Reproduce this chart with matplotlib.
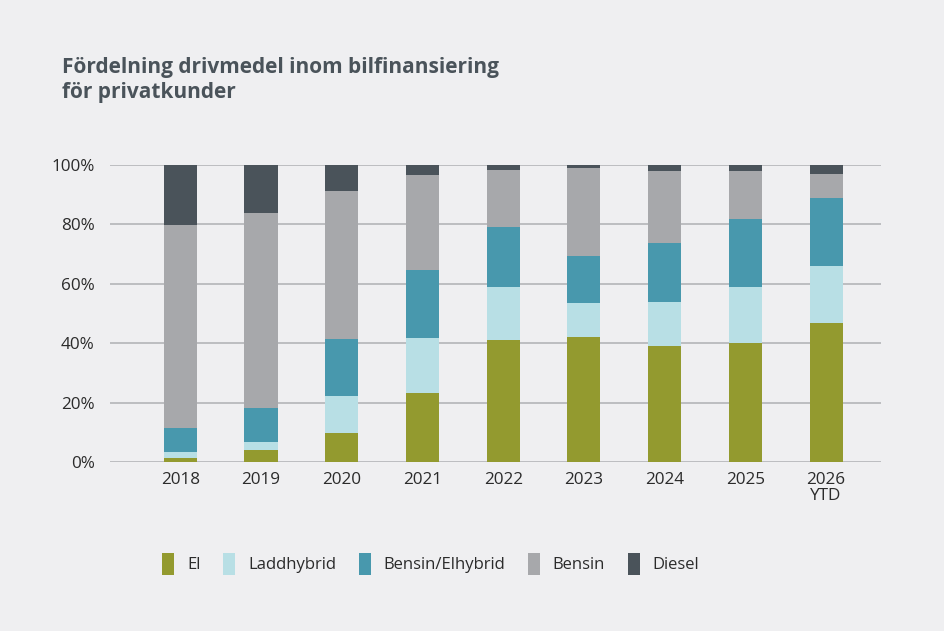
import numpy as np
import matplotlib
matplotlib.use("Agg")
import matplotlib.pyplot as plt
from matplotlib.patches import Patch

years = ['2018', '2019', '2020', '2021', '2022', '2023', '2024', '2025', '2026\nYTD']
el = [1.3, 3.9, 9.6, 23.1, 41.2, 42.1, 39.0, 40.0, 46.9]
laddhybrid = [2.0, 2.7, 12.6, 18.6, 17.6, 11.4, 14.9, 19.0, 19.1]
bensin_el = [8.2, 11.6, 19.3, 22.9, 20.4, 15.9, 19.9, 22.9, 23.0]
bensin = [68.4, 65.5, 49.8, 32.0, 19.2, 29.5, 24.3, 16.2, 8.0]
diesel = [20.1, 16.3, 8.7, 3.4, 1.6, 1.1, 1.9, 1.9, 3.0]

series = [('El', el, '#939a2f'),
          ('Laddhybrid', laddhybrid, '#b8dfe5'),
          ('Bensin/Elhybrid', bensin_el, '#4898ad'),
          ('Bensin', bensin, '#a7a8ab'),
          ('Diesel', diesel, '#4a535a')]

bg = '#efeff1'
plt.rcParams['font.family'] = ['Open Sans', 'DejaVu Sans']

fig = plt.figure(figsize=(9.45, 6.31), dpi=100, facecolor=bg)
ax = fig.add_axes([110 / 945, 1 - 462 / 631, 771 / 945, 297 / 631], facecolor=bg)

x = np.arange(len(years))
bottom = np.zeros(len(years))
for name, vals, col in series:
    ax.bar(x, vals, bottom=bottom, width=0.41, color=col, label=name, zorder=3)
    bottom += np.array(vals)

ax.set_ylim(0, 100)
ax.set_xlim(-0.87, 8.68)
ax.set_yticks(np.arange(0, 101, 20))
ax.set_yticklabels([f'{v}%' for v in range(0, 101, 20)])
ax.yaxis.grid(True, color='#b4b5b8', linewidth=1.2, zorder=0)
ax.set_xticks(x)
ax.set_xticklabels(years, linespacing=1.0)
for s in ax.spines.values():
    s.set_visible(False)
ax.tick_params(axis='both', length=0, labelsize=12.3, colors='#2b2b2b')
ax.tick_params(axis='y', pad=11)
ax.tick_params(axis='x', pad=7)

fig.text(62 / 945, 1 - 80 / 631, 'Fördelning drivmedel inom bilfinansiering\nför privatkunder',
         fontsize=15, fontweight='bold', color='#4a535a', va='center', ha='left',
         linespacing=1.3)

handles = [Patch(facecolor=c, edgecolor='none', label=n) for n, _, c in series]
fig.legend(handles=handles, loc='center left', bbox_to_anchor=(147 / 945, 1 - 564 / 631),
           ncol=5, frameon=False, fontsize=12, handlelength=0.75, handleheight=1.6,
           columnspacing=1.35, handletextpad=0.75, labelcolor='#2b2b2b')

fig.savefig('out.png', dpi=100, facecolor=bg)
